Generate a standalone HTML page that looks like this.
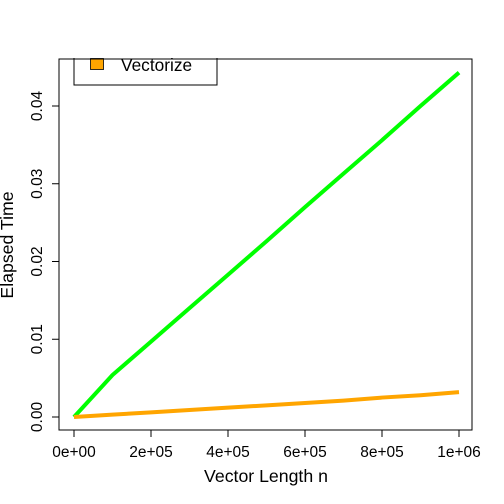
<!DOCTYPE html>
<html><head><meta charset="utf-8"><style>body{margin:0;background:#fff}svg{display:block;font-family:"Liberation Sans",sans-serif}</style></head>
<body>
<svg id="c" width="504" height="504"></svg>
<script>
const xs=[0,1e5,2e5,3e5,4e5,5e5,6e5,7e5,8e5,9e5,1e6];
const loopVals=[0,0.0054,0.0097,0.0140,0.0183,0.0226,0.0270,0.0313,0.0356,0.0400,0.0443];
const vecVals=[0,0.0003,0.0006,0.0009,0.0012,0.0015,0.0018,0.0021,0.0025,0.0028,0.0032];
const xTicks=[0,2e5,4e5,6e5,8e5,1e6];
const xTickLabels=["0e+00","2e+05","4e+05","6e+05","8e+05","1e+06"];
const yTicks=[0,0.01,0.02,0.03,0.04];
const yTickLabels=["0.00","0.01","0.02","0.03","0.04"];
const NS="http://www.w3.org/2000/svg",svg=document.getElementById('c');
const X=v=>74+v*(459-74)/1e6, Y=v=>417-v*7775;
function mk(t,a,p){const e=document.createElementNS(NS,t);for(const k in a)e.setAttribute(k,a[k]);(p||svg).appendChild(e);return e;}
let e;
e=mk('rect',{x:59,y:59,width:413,height:371,fill:'none',stroke:'#000'});

xTicks.forEach((v,i)=>{
 e=mk('line',{x1:X(v),x2:X(v),y1:430,y2:437,stroke:'#000'});
 
 e=mk('text',{x:X(v),y:457,'font-size':15.5,'text-anchor':'middle'});e.textContent=xTickLabels[i];
 
});
yTicks.forEach((v,i)=>{
 e=mk('line',{x1:52,x2:59,y1:Y(v),y2:Y(v),stroke:'#000'});
 
 e=mk('text',{x:0,y:0,'font-size':15.5,'text-anchor':'middle',transform:`translate(42,${Y(v)}) rotate(-90)`});e.textContent=yTickLabels[i];
 
});
e=mk('text',{x:266,y:482,'font-size':17.7,'text-anchor':'middle'});e.textContent='Vector Length n';

e=mk('text',{x:0,y:0,'font-size':17.7,'text-anchor':'middle',transform:'translate(13,245) rotate(-90)'});e.textContent='Elapsed Time';

function line(vals,col,name){
 e=mk('polyline',{points:xs.map((x,i)=>X(x)+','+Y(vals[i])).join(' '),fill:'none',stroke:col,'stroke-width':4,'stroke-linejoin':'round'});
 
}
line(loopVals,'#00ff00','loop-series-line');
line(vecVals,'#ffa500','vectorize-series-line');
e=mk('rect',{x:74,y:30,width:143,height:55,fill:'#fff',stroke:'#000'});

e=mk('rect',{x:90.5,y:58.5,width:13,height:11,fill:'#ffa500',stroke:'#000','stroke-width':0.8});

e=mk('text',{x:121,y:71,'font-size':17.3});e.textContent='Vectorize';

e=mk('rect',{x:0,y:0,width:504,height:58,fill:'#fff'});

e=mk('line',{x1:59,x2:472,y1:59,y2:59,stroke:'#000'});

</script>
</body></html>
